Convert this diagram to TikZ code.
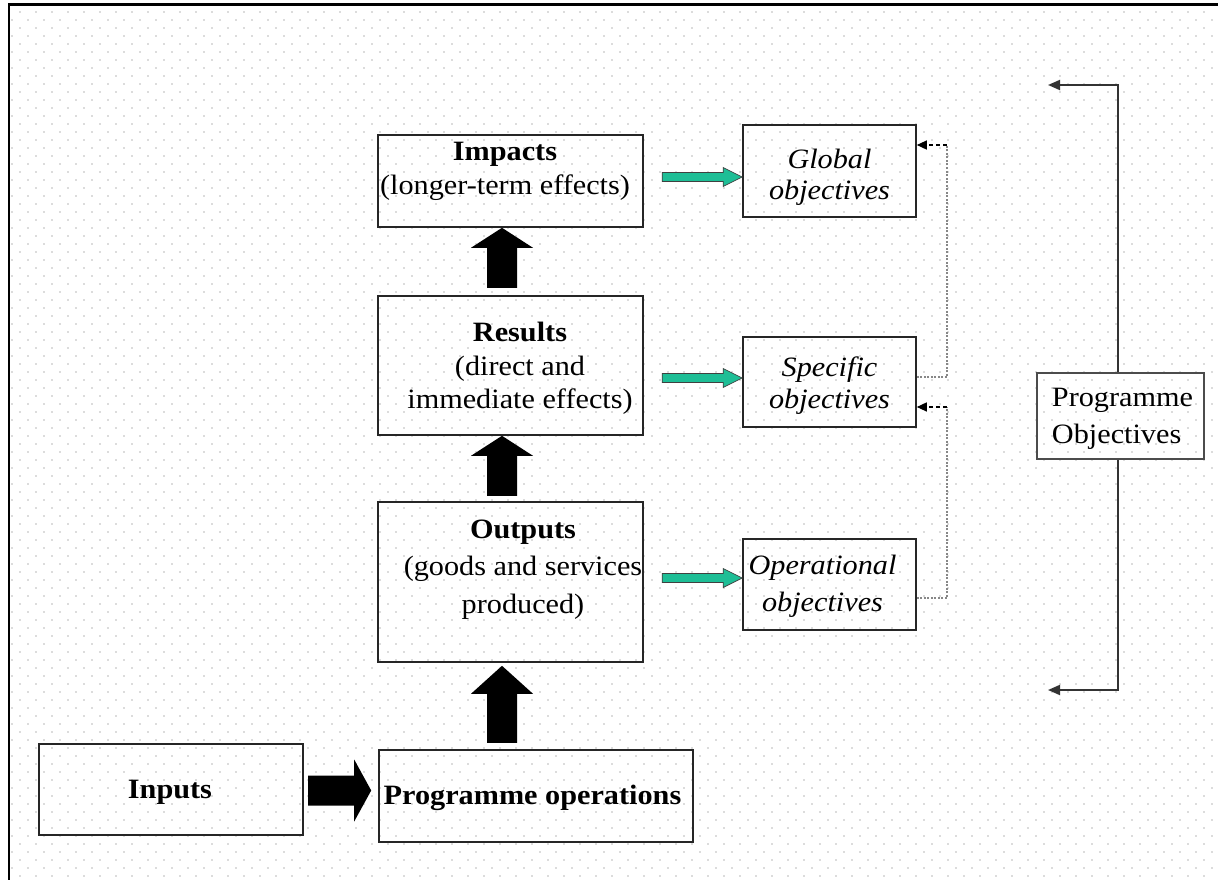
\documentclass[tikz,border=0pt]{standalone}
\usepackage{fontspec}
\setmainfont{Liberation Serif}[FakeStretch=1.08]
\usetikzlibrary{calc,arrows.meta,patterns}
\pgfdeclarepatternformonly{griddots}{\pgfqpoint{-1pt}{-1pt}}{\pgfqpoint{17pt}{17pt}}{\pgfqpoint{16pt}{16pt}}{%
  \pgfpathcircle{\pgfqpoint{4pt}{4pt}}{0.9pt}%
  \pgfpathcircle{\pgfqpoint{12pt}{12pt}}{0.9pt}%
  \pgfusepath{fill}}
\definecolor{arrgreen}{RGB}{30,190,150}
\definecolor{dashgray}{RGB}{135,135,135}
\newcommand\blkup[3]{% tip, total length, head length
  \fill[black] (#1) -- ++(31,#3) -- ++(-16,0) -- ++(0,{#2-#3}) -- ++(-30,0) -- ++(0,{-(#2-#3)}) -- ++(-16,0) -- cycle;}
\newcommand\blkright[1]{%
  \fill[black] (#1) -- ++(-17,-31) -- ++(0,16) -- ++(-46,0) -- ++(0,30) -- ++(46,0) -- ++(0,16) -- cycle;}
\newcommand\grarr[1]{%
  \filldraw[fill=arrgreen, draw=black!75, line width=0.7pt] (#1) -- ++(-19,-9.5) -- ++(0,5) -- ++(-61,0) -- ++(0,9) -- ++(61,0) -- ++(0,5) -- cycle;}
\begin{document}
\begin{tikzpicture}[x=1pt,y=-1pt,
  boxst/.style={draw=black!85, line width=1.6pt, inner sep=0pt},
  txt/.style={font=\fontsize{28}{34}\selectfont, align=center, inner sep=0pt},
  dashconn/.style={draw=dashgray, line width=1.7pt, dash pattern=on 2pt off 1.5pt},
  dashend/.style={draw=black, line width=1.2pt, dash pattern=on 4pt off 3pt, -{Triangle[length=10pt,width=9pt]}},
  bracketst/.style={draw=black!80, line width=1.8pt},
  brarrow/.style={bracketst, -{Triangle[length=12pt,width=10pt]}}]
\useasboundingbox (0,0) rectangle (1218,880);
\clip (0,0) rectangle (1218,880);
\fill[pattern=griddots, pattern color=black!28] (9,4.5) rectangle (1218,880);
\draw[line width=2.5pt] (9,890) -- (9,4.5) -- (1230,4.5);

% left column
\node[boxst, minimum width=265pt, minimum height=92pt,
  label={[txt, shift={(-5.5,-9.5)}]center:{\textbf{Impacts}\\(longer-term effects)}}] (imp) at (510.5,181) {};
\node[boxst, minimum width=265pt, minimum height=139pt,
  label={[txt, font=\fontsize{28}{33.5}\selectfont, shift={(9.5,3)}]center:{\textbf{Results}\\(direct and\\immediate effects)}}] (res) at (510.5,365.5) {};
\node[boxst, minimum width=265pt, minimum height=160pt,
  label={[txt, font=\fontsize{28}{37.5}\selectfont, shift={(12.5,-12.5)}]center:{\textbf{Outputs}\\(goods and services\\produced)}}] (out) at (510.5,582) {};
\node[boxst, minimum width=314pt, minimum height=92pt,
  label={[txt, shift={(-3.5,2)}]center:{\textbf{Programme operations}}}] (pops) at (536,796) {};
\node[boxst, minimum width=264pt, minimum height=91pt,
  label={[txt, shift={(-1,2.5)}]center:{\textbf{Inputs}}}] (inp) at (171,789.5) {};

% right column
\node[boxst, minimum width=173pt, minimum height=92pt,
  label={[txt, font=\fontsize{28}{31}\selectfont, shift={(0,6.5)}]center:{\textit{Global}\\\textit{objectives}}}] (glob) at (829.5,171) {};
\node[boxst, minimum width=173pt, minimum height=90pt,
  label={[txt, font=\fontsize{28}{32}\selectfont, shift={(0,4)}]center:{\textit{Specific}\\\textit{objectives}}}] (spec) at (829.5,382) {};
\node[boxst, minimum width=173pt, minimum height=91pt,
  label={[txt, font=\fontsize{28}{37}\selectfont, shift={(-7,2)}]center:{\textit{Operational}\\\textit{objectives}}}] (oper) at (829.5,584.5) {};

% programme objectives
\node[boxst, draw=black!70, minimum width=167pt, minimum height=86pt,
  label={[txt, font=\fontsize{28}{37}\selectfont, align=left, shift={(2,2.5)}]center:{Programme\\Objectives}}] (pobj) at (1120.5,416) {};

% black block arrows
\blkup{$(imp.south)+(-8.5,0)$}{60}{20}
\blkup{$(res.south)+(-8.5,0)$}{60}{20}
\blkup{$(out.south)+(-8.5,3)$}{77}{28}
\blkright{$(pops.west)+(-7,-5.5)$}

% green arrows
\grarr{$(glob.west)+(0,6)$}
\grarr{$(spec.west)+(0,-4)$}
\grarr{$(oper.west)+(0,-6.5)$}

% dashed connectors
\coordinate (c1) at ($(spec.east)+(30,-5)$);
\coordinate (c2) at ($(glob.east)+(30,-26)$);
\draw[dashconn] ($(spec.east)+(0,-5)$) -- (c1) -- (c2);
\draw[dashend] (c2) -- ($(glob.east)+(0,-26)$);
\coordinate (c3) at ($(oper.east)+(30,13.5)$);
\coordinate (c4) at ($(spec.east)+(30,25)$);
\draw[dashconn] ($(oper.east)+(0,13.5)$) -- (c3) -- (c4);
\draw[dashend] (c4) -- ($(spec.east)+(0,25)$);

% bracket
\coordinate (bt) at (1118,85);
\coordinate (bb) at (1118,690);
\draw[brarrow] (pobj.north -| bt) -- (bt) -- ++(-70,0);
\draw[brarrow] (pobj.south -| bb) -- (bb) -- ++(-70,0);
\end{tikzpicture}
\end{document}
